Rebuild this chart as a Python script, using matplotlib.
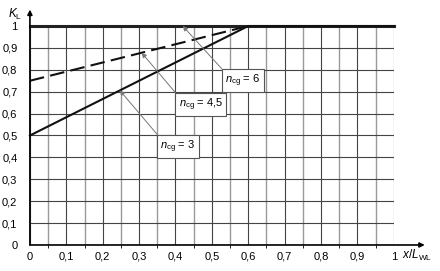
import numpy as np
import matplotlib
matplotlib.use("Agg")
import matplotlib.pyplot as plt
from matplotlib.ticker import MultipleLocator, FuncFormatter

plt.rcParams['font.family'] = ['Liberation Sans', 'DejaVu Sans']
plt.rcParams['mathtext.fontset'] = 'custom'
plt.rcParams['mathtext.rm'] = 'Liberation Sans'
plt.rcParams['mathtext.it'] = 'Liberation Sans:italic'

# curve data (x/LWL, KL)
x_n3 = [0.0, 0.6, 1.0]
kl_n3 = [0.5, 1.0, 1.0]
x_n45 = [0.0, 0.6]
kl_n45 = [0.75, 1.0]
x_n6 = [0.0, 1.0]
kl_n6 = [1.0, 1.0]

labels = ["3", "4,5", "6"]
# arrow tip on the curve and label box centre
tips = [(0.247, 0.706), (0.307, 0.878), (0.42, 1.0)]
boxes = [(0.407, 0.45), (0.47, 0.64), (0.585, 0.75)]

fig = plt.figure(figsize=(4.4, 2.71), dpi=100)
ax = fig.add_axes([0.068, 0.096, 0.827, 0.808])

ax.set_xlim(0, 1)
ax.set_ylim(0, 1)
ax.xaxis.set_major_locator(MultipleLocator(0.1))
ax.xaxis.set_minor_locator(MultipleLocator(0.05))
ax.yaxis.set_major_locator(MultipleLocator(0.1))
fmt = FuncFormatter(lambda v, p: ("%g" % round(v, 2)).replace('.', ','))
ax.xaxis.set_major_formatter(fmt)
ax.yaxis.set_major_formatter(fmt)
ax.tick_params(length=0, labelsize=8, pad=5)
ax.tick_params(axis='y', pad=9)
ax.grid(which='major', color='#444444', lw=0.8)
ax.grid(which='minor', axis='x', color='#999999', lw=1.0)
ax.set_axisbelow(True)
for s in ['top', 'right', 'left', 'bottom']:
    ax.spines[s].set_visible(False)

ax.plot(x_n6, kl_n6, color='#222222', lw=2.2, clip_on=False)
ax.plot(x_n3, kl_n3, color='#111111', lw=1.5, clip_on=False)
ax.plot(x_n45, kl_n45, color='#111111', lw=1.5, ls=(0, (7, 3)))

# axes with arrows
ax.annotate('', xy=(0, 1.075), xytext=(0, 0), xycoords='axes fraction',
            arrowprops=dict(arrowstyle='-|>', color='black', lw=1.2,
                            mutation_scale=7, shrinkA=0, shrinkB=0))
ax.annotate('', xy=(1.085, 0), xytext=(0, 0), xycoords='axes fraction',
            arrowprops=dict(arrowstyle='-|>', color='black', lw=1.2,
                            mutation_scale=7, shrinkA=0, shrinkB=0))
ax.text(-0.022, 1.055, r'$K_{\mathrm{L}}$', transform=ax.transAxes,
        ha='right', va='center', fontsize=8.5)
ax.text(1.022, -0.05, r'$x/L_{\mathrm{WL}}$', transform=ax.transAxes,
        ha='left', va='center', fontsize=8.5)

for lab, tip, box in zip(labels, tips, boxes):
    ax.annotate(r'$n_{\mathrm{cg}}$ = ' + lab, xy=tip, xytext=box,
                ha='center', va='center', fontsize=8,
                bbox=dict(boxstyle='square,pad=0.3', fc='white', ec='#555555', lw=0.8),
                arrowprops=dict(arrowstyle='-|>', color='#777777', lw=0.7,
                                mutation_scale=7, shrinkA=0, shrinkB=0,
                                relpos=(0, 1)))

fig.savefig('out.png', dpi=100)
